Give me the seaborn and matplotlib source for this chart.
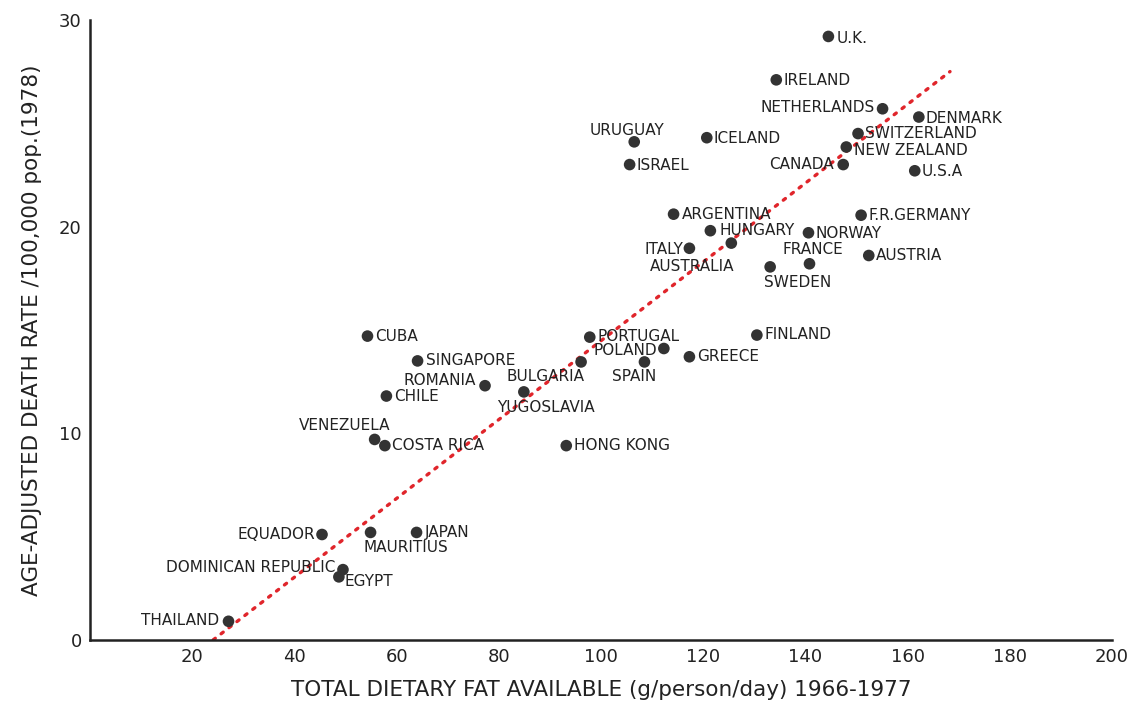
import pandas as pd
import matplotlib.pyplot as plt
import seaborn as sns

# Fat intake vs age-adjusted death rate
countries = [
    "THAILAND", "EGYPT", "DOMINICAN REPUBLIC", "EQUADOR", "MAURITIUS", "JAPAN",
    "VENEZUELA", "COSTA RICA", "CHILE", "CUBA", "SINGAPORE", "ROMANIA",
    "BULGARIA", "YUGOSLAVIA", "HONG KONG", "PORTUGAL", "POLAND", "SPAIN",
    "GREECE", "FINLAND", "ITALY", "AUSTRALIA", "HUNGARY", "ARGENTINA",
    "URUGUAY", "ISRAEL", "ICELAND", "U.K.", "IRELAND", "NETHERLANDS",
    "DENMARK", "SWITZERLAND", "NEW ZEALAND", "CANADA", "U.S.A", "F.R.GERMANY",
    "NORWAY", "FRANCE", "SWEDEN", "AUSTRIA",
]
fat = [
    27.1, 48.7, 49.5, 45.4, 54.9, 63.9,
    55.7, 57.7, 58.0, 54.3, 64.1, 77.3,
    96.1, 84.9, 93.2, 97.8, 112.3, 108.5,
    117.3, 130.5, 117.3, 125.5, 121.4, 114.2,
    106.5, 105.6, 120.7, 144.5, 134.3, 155.1,
    162.2, 150.3, 148.0, 147.4, 161.4, 150.9,
    140.6, 140.8, 133.1, 152.4,
]
death_rate = [
    0.9, 3.05, 3.4, 5.1, 5.2, 5.2,
    9.7, 9.4, 11.8, 14.7, 13.5, 12.3,
    13.45, 12.0, 9.4, 14.65, 14.1, 13.45,
    13.7, 14.75, 18.95, 19.2, 19.8, 20.6,
    24.1, 23.0, 24.3, 29.2, 27.1, 25.7,
    25.3, 24.5, 23.85, 23.0, 22.7, 20.55,
    19.7, 18.2, 18.05, 18.6,
]

# regression line endpoints
trend_x = [24.1, 168.3]
trend_y = [0.0, 27.5]

xticks = [20, 40, 60, 80, 100, 120, 140, 160, 180, 200]
yticks = [0, 10, 20, 30]

# where each name sits relative to its dot (pixels, alignment)
label_pos = {
    "THAILAND": (-9, 1, "right"), "EGYPT": (6, -5, "left"),
    "DOMINICAN REPUBLIC": (-8, 2, "right"), "EQUADOR": (-7, 0, "right"),
    "MAURITIUS": (-7, -15, "left"), "JAPAN": (8, 0, "left"),
    "VENEZUELA": (16, 14, "right"), "COSTA RICA": (7, 0, "left"),
    "CHILE": (8, 0, "left"), "CUBA": (8, 0, "left"),
    "SINGAPORE": (8, 0, "left"), "ROMANIA": (-9, 5, "right"),
    "BULGARIA": (3, -15, "right"), "YUGOSLAVIA": (-27, -16, "left"),
    "HONG KONG": (8, 0, "left"), "PORTUGAL": (8, 1, "left"),
    "POLAND": (-7, -2, "right"), "SPAIN": (-10, -15, "center"),
    "GREECE": (8, 0, "left"), "FINLAND": (8, 1, "left"),
    "ITALY": (-6, -1, "right"), "AUSTRALIA": (3, -23, "right"),
    "HUNGARY": (9, 0, "left"), "ARGENTINA": (8, 0, "left"),
    "URUGUAY": (-7, 11, "center"), "ISRAEL": (7, -1, "left"),
    "ICELAND": (7, -1, "left"), "U.K.": (8, -2, "left"),
    "IRELAND": (7, -1, "left"), "NETHERLANDS": (-8, 1, "right"),
    "DENMARK": (7, -1, "left"), "SWITZERLAND": (7, 0, "left"),
    "NEW ZEALAND": (8, -3, "left"), "CANADA": (-9, 0, "right"),
    "U.S.A": (7, -1, "left"), "F.R.GERMANY": (7, 0, "left"),
    "NORWAY": (7, -1, "left"), "FRANCE": (3, 14, "center"),
    "SWEDEN": (-6, -16, "left"), "AUSTRIA": (7, 0, "left"),
}

df = pd.DataFrame({"country": countries, "fat": fat, "rate": death_rate})

sns.set_style("white")
plt.rcParams["font.family"] = ["DejaVu Sans"]

fig = plt.figure(figsize=(11.31, 7.11), dpi=100)
ax = fig.add_axes([0.0796, 0.1, 0.9036, 0.872])

ax.plot(trend_x, trend_y, color="#e0252b", linestyle=(0, (0.8, 2.2)),
        linewidth=2.4, dash_capstyle="round", zorder=1)
sns.scatterplot(data=df, x="fat", y="rate", ax=ax, s=70, color="#333333",
                edgecolor="none", zorder=2)

for name, xv, yv in zip(countries, fat, death_rate):
    dx, dy, ha = label_pos[name]
    ax.annotate(name, (xv, yv), xytext=(dx, dy), textcoords="offset pixels",
                ha=ha, va="center", fontsize=11, color="#222222")

ax.set_xlim(0, 200)
ax.set_ylim(0, 30)
ax.set_xticks(xticks)
ax.set_yticks(yticks)
ax.tick_params(direction="in", length=7, width=1.5, labelsize=13,
               colors="#222222", pad=6)
for side in ["top", "right"]:
    ax.spines[side].set_visible(False)
for side in ["left", "bottom"]:
    ax.spines[side].set_linewidth(1.8)
    ax.spines[side].set_color("#222222")

ax.set_xlabel("TOTAL DIETARY FAT AVAILABLE (g/person/day) 1966-1977",
              fontsize=15.5, color="#222222", labelpad=10)
ax.set_ylabel("AGE-ADJUSTED DEATH RATE /100,000 pop.(1978)",
              fontsize=15.5, color="#222222", labelpad=12)

fig.savefig("out.png", dpi=100)
